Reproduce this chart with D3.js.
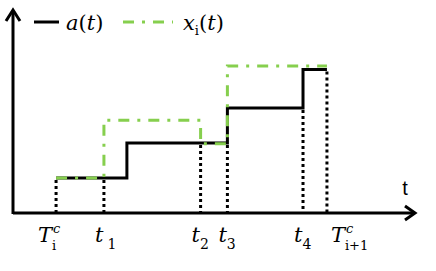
<!DOCTYPE html>
<html>
<head>
<meta charset="utf-8">
<script src="https://cdn.jsdelivr.net/npm/d3@7"></script>
<style>
html,body{margin:0;padding:0;background:#fff;}
svg{display:block;}
</style>
</head>
<body>
<script>
// ---- data ----
const tickNames = ["Tic", "t1", "t2", "t3", "t4", "Ti1c"];
const tickTimes = [0.9, 1.9, 3.92, 4.48, 6.06, 6.56];
const tickTops  = [1, 1, 2, 2, 3, 4.1];           // level where each dotted guide starts
const aTimes  = [0.9, 2.38, 4.48, 6.06, 6.56];      // change points of a(t)
const aValues = [1, 2, 3, 4.1];
const xTimes  = [0.9, 1.9, 3.92, 4.48, 6.56];       // change points of x_i(t)
const xValues = [1, 2.65, 1.98, 4.2];
const legendLabels = ["a(t)", "x_i(t)"];

const W = 436, H = 271;
const green = "#86cf4e";
const SERIF = "DejaVu Serif";
const svg = d3.select("body").append("svg").attr("width", W).attr("height", H);

const x = d3.scaleLinear().domain([0, 8.4]).range([13, 415]);
const y = d3.scaleLinear().domain([0, 5.8]).range([213, 10]);

function stepPts(times, vals) {
  const pts = [];
  vals.forEach((v, i) => { pts.push([times[i], v]); pts.push([times[i + 1], v]); });
  return pts;
}
const line = d3.line().x(d => x(d[0])).y(d => y(d[1]));

// dotted guides
svg.selectAll("line.guide").data(tickTimes).enter().append("line")
  .attr("x1", d => x(d)).attr("x2", d => x(d))
  .attr("y1", (d, i) => y(tickTops[i]) + 2).attr("y2", y(0))
  .attr("stroke", "#000").attr("stroke-width", 3).attr("stroke-dasharray", "3,3");

// a(t) black
svg.append("path").attr("d", line(stepPts(aTimes, aValues)))
  .attr("fill", "none").attr("stroke", "#000").attr("stroke-width", 3);

// x_i(t) green dash-dot
svg.append("path").attr("d", line(stepPts(xTimes, xValues)))
  .attr("fill", "none").attr("stroke", green).attr("stroke-width", 3)
  .attr("stroke-dasharray", "11,8,3,8");

// axes
const ax = svg.append("g").attr("stroke", "#000").attr("stroke-width", 3).attr("fill", "none");
ax.append("line").attr("x1", x(0)).attr("x2", x(8.4) - 2).attr("y1", y(0)).attr("y2", y(0));
ax.append("line").attr("x1", x(0)).attr("x2", x(0)).attr("y1", y(0) + 1).attr("y2", y(5.8) + 2);
ax.append("path").attr("d", `M${x(8.4) - 10},${y(0) - 7} L${x(8.4)},${y(0)} L${x(8.4) - 10},${y(0) + 7}`);
ax.append("path").attr("d", `M${x(0) - 7},${y(5.8) + 11} L${x(0)},${y(5.8)} L${x(0) + 7},${y(5.8) + 11}`);

// axis label t
svg.append("text").attr("x", 405).attr("y", 195).attr("text-anchor", "middle")
  .attr("font-family", "Liberation Sans").attr("font-size", 20).text("t");

// tick labels (base glyph, subscript, superscript as separate texts)
const labelDefs = [
  {base: "T", sub: "i", sup: "c", dx: -18},
  {base: "t", sub: "1", dx: -9, gap: 4},
  {base: "t", sub: "2", dx: -9},
  {base: "t", sub: "3", dx: -9},
  {base: "t", sub: "4", dx: -9},
  {base: "T", sub: "i+1", sup: "c", dx: 4}
];
const lg = svg.append("g");
labelDefs.forEach((d, i) => {
  const px = x(tickTimes[i]) + d.dx;
  const b = lg.append("text").attr("x", px).attr("y", 242)
    .attr("font-family", SERIF).attr("font-style", "italic").attr("font-size", 21).text(d.base);
  const bw = b.node().getComputedTextLength();
  if (d.sup) {
    lg.append("text").attr("x", px + bw + 1).attr("y", 233)
      .attr("font-family", SERIF).attr("font-style", "italic").attr("font-size", 13).text(d.sup);
    lg.append("text").attr("x", px + bw).attr("y", 250)
      .attr("font-family", SERIF).attr("font-size", 13).text(d.sub);
  } else {
    lg.append("text").attr("x", px + bw + (d.gap || 0)).attr("y", 249)
      .attr("font-family", SERIF).attr("font-size", 14).text(d.sub);
  }
});

// legend
const leg = svg.append("g");
leg.append("line").attr("x1", 34).attr("x2", 59).attr("y1", 22).attr("y2", 22)
  .attr("stroke", "#000").attr("stroke-width", 3);
leg.append("line").attr("x1", 123).attr("x2", 173).attr("y1", 22).attr("y2", 22)
  .attr("stroke", green).attr("stroke-width", 3).attr("stroke-dasharray", "11,8,3,8");
const l1 = leg.append("text").attr("x", 66).attr("y", 30).attr("font-family", SERIF).attr("font-size", 21);
l1.append("tspan").attr("font-style", "italic").text("a");
l1.append("tspan").text("(");
l1.append("tspan").attr("font-style", "italic").text("t");
l1.append("tspan").text(")");
const l2 = leg.append("text").attr("x", 183).attr("y", 30).attr("font-family", SERIF).attr("font-size", 21);
l2.append("tspan").attr("font-style", "italic").text("x");
l2.append("tspan").attr("font-size", 13).attr("dy", 5).text("i");
l2.append("tspan").attr("dy", -5).text("(");
l2.append("tspan").attr("font-style", "italic").text("t");
l2.append("tspan").text(")");
</script>
</body>
</html>
